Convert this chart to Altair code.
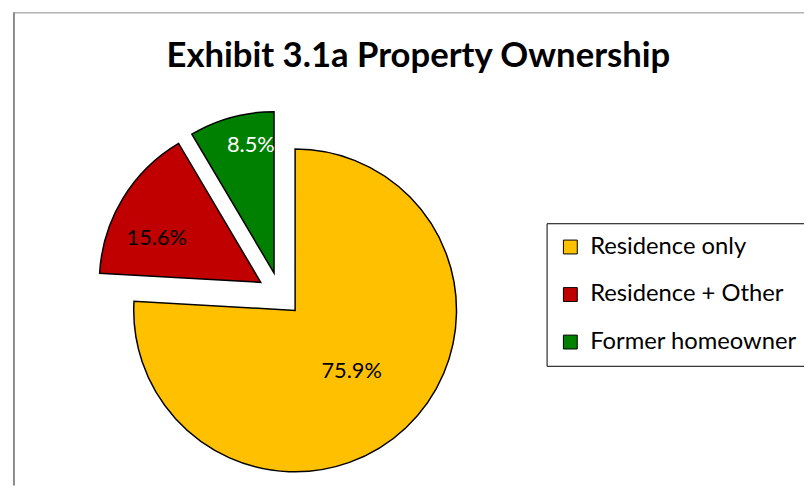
import altair as alt
import pandas as pd
import math

# ---- data ----
CATEGORIES = ["Residence only", "Residence + Other", "Former homeowner"]
SHARES = [75.9, 15.6, 8.5]
LABELS = ["75.9%", "15.6%", "8.5%"]
COLORS = ["#FFC000", "#C00000", "#008000"]
LABEL_COLORS = ["#000000", "#000000", "#FFFFFF"]
TITLE = "Exhibit 3.1a Property Ownership"

# ---- derived table ----
ends = pd.Series(SHARES).cumsum()
starts = ends - pd.Series(SHARES)
df = pd.DataFrame({
    "category": CATEGORIES,
    "share": SHARES,
    "label": LABELS,
    "start": starts,
    "end": ends,
    "mid": (starts + ends) / 2,
})

# ---- layout ----
W, H = 804, 480
CX, CY = 290, 303
R = 163
EXPLODE = {  # slice centre offsets (px)
    "Residence only": (0, 0),
    "Residence + Other": (-34.7, -28.3),
    "Former homeowner": (-21.3, -37.7),
}
LABEL_POS = {  # (radius, theta offset in radians)
    "Residence only": (84, 0.01),
    "Residence + Other": (114, -0.147),
    "Former homeowner": (131, 0.087),
}
FONT = "Lato"

theta_scale = alt.Scale(domain=[0, 100], range=[0, 2 * math.pi])
color_scale = alt.Scale(domain=CATEGORIES, range=COLORS)

base = alt.Chart(df)
layers = []
for i, cat in enumerate(CATEGORIES):
    dx, dy = EXPLODE[cat]
    arc = base.transform_filter(alt.datum.category == cat).mark_arc(
        radius=R, stroke="black", strokeWidth=1.5
    ).encode(
        theta=alt.Theta("start:Q", scale=theta_scale),
        theta2="end:Q",
        color=alt.Color(
            "category:N",
            scale=color_scale,
            sort=CATEGORIES,
            legend=alt.Legend(
                title=None, orient="none", legendX=544, legendY=215,
                padding=12, strokeColor="black", fillColor="white",
                symbolType="square", symbolSize=196,
                symbolStrokeColor="black", symbolStrokeWidth=1,
                symbolOpacity=1,
                labelFont=FONT, labelFontSize=24, labelColor="black",
                labelOffset=8, rowPadding=24, labelLimit=400,
            ),
        ),
        x=alt.value(CX + dx),
        y=alt.value(CY + dy),
    )
    lr, lo = LABEL_POS[cat]
    txt = base.transform_filter(alt.datum.category == cat).mark_text(
        radius=lr, thetaOffset=lo, font=FONT, fontSize=22,
        color=LABEL_COLORS[i], align="center", baseline="middle"
    ).encode(
        theta=alt.Theta("mid:Q", scale=theta_scale),
        text="label:N",
        x=alt.value(CX + dx),
        y=alt.value(CY + dy),
    )
    layers += [arc, txt]

title_df = pd.DataFrame({"t": [TITLE]})
title = alt.Chart(title_df).mark_text(
    font=FONT, fontSize=35, fontWeight="bold", color="black",
    align="center", baseline="alphabetic"
).encode(text="t:N", x=alt.value(414.5), y=alt.value(57))

border_top = alt.Chart(title_df).mark_rule(color="#8a8a8a", strokeWidth=1).encode(
    x=alt.value(6), x2=alt.value(W), y=alt.value(2.5)
)
border_left = alt.Chart(title_df).mark_rule(color="#8a8a8a", strokeWidth=2).encode(
    x=alt.value(6), y=alt.value(2), y2=alt.value(H)
)

chart = alt.layer(border_top, border_left, *layers, title).properties(
    width=W, height=H, autosize="none", padding=0, background="white"
).configure_view(stroke=None)

chart.save("out.html", embed_options={"renderer": "svg", "actions": False})
